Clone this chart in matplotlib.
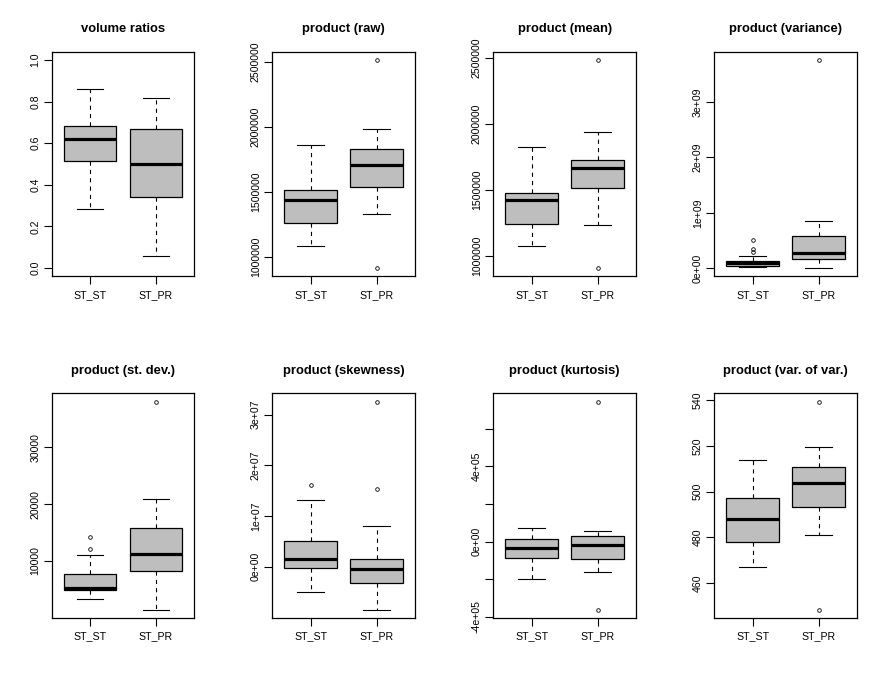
import matplotlib
matplotlib.use("Agg")
import matplotlib.pyplot as plt

plt.rcParams['font.family'] = ['Liberation Sans', 'DejaVu Sans']
plt.rcParams['lines.scale_dashes'] = False

# ================== DATA ==================
GROUPS = ["ST_ST", "ST_PR"]

TITLES = ["volume ratios", "product (raw)", "product (mean)", "product (variance)",
          "product (st. dev.)", "product (skewness)", "product (kurtosis)",
          "product (var. of var.)"]

# five numbers per group: whisker low, Q1, median, Q3, whisker high
ratio_st = [0.284, 0.515, 0.621, 0.682, 0.862]
ratio_pr = [0.058, 0.342, 0.501, 0.669, 0.817]
raw_st = [1.085e6, 1.264e6, 1.438e6, 1.512e6, 1.862e6]
raw_pr = [1.331e6, 1.538e6, 1.708e6, 1.828e6, 1.985e6]
mean_st = [1.076e6, 1.242e6, 1.424e6, 1.477e6, 1.826e6]
mean_pr = [1.235e6, 1.515e6, 1.667e6, 1.727e6, 1.939e6]
var_st = [0.023e9, 0.047e9, 0.090e9, 0.127e9, 0.217e9]
var_pr = [0.005e9, 0.163e9, 0.271e9, 0.578e9, 0.849e9]
sd_st = [3330, 4900, 5200, 7650, 10980]
sd_pr = [1400, 8120, 11280, 15720, 20980]
skew_st = [-0.49e7, -0.02e7, 0.163e7, 0.51e7, 1.314e7]
skew_pr = [-0.843e7, -0.314e7, -0.053e7, 0.157e7, 0.804e7]
kurt_st = [-1.97e5, -0.86e5, -0.33e5, 0.14e5, 0.725e5]
kurt_pr = [-1.60e5, -0.915e5, -0.16e5, 0.28e5, 0.566e5]
vov_st = [467.1, 478.1, 488.0, 497.0, 513.6]
vov_pr = [481.0, 493.2, 503.9, 510.9, 519.6]

# outliers
ratio_st_out, ratio_pr_out = [], []
raw_st_out, raw_pr_out = [], [2.512e6, 0.918e6]
mean_st_out, mean_pr_out = [], [2.482e6, 0.911e6]
var_st_out, var_pr_out = [0.511e9, 0.343e9, 0.300e9], [3.752e9]
sd_st_out, sd_pr_out = [14210, 12100], [38070]
skew_st_out, skew_pr_out = [1.608e7], [3.255e7, 1.529e7]
kurt_st_out, kurt_pr_out = [], [7.44e5, -3.61e5]
vov_st_out, vov_pr_out = [], [539.3, 448.4]

# y ticks and their labels ("" = tick without label)
TICKS = [
    ([0, 0.2, 0.4, 0.6, 0.8, 1.0], ["0.0", "0.2", "0.4", "0.6", "0.8", "1.0"]),
    ([1e6, 1.5e6, 2e6, 2.5e6], ["1000000", "1500000", "2000000", "2500000"]),
    ([1e6, 1.5e6, 2e6, 2.5e6], ["1000000", "1500000", "2000000", "2500000"]),
    ([0, 1e9, 2e9, 3e9], ["0e+00", "1e+09", "2e+09", "3e+09"]),
    ([10000, 20000, 30000], ["10000", "20000", "30000"]),
    ([0, 1e7, 2e7, 3e7], ["0e+00", "1e+07", "2e+07", "3e+07"]),
    ([-4e5, -2e5, 0, 2e5, 4e5, 6e5], ["-4e+05", "", "0e+00", "", "4e+05", ""]),
    ([460, 480, 500, 520, 540], ["460", "480", "500", "520", "540"]),
]
# =================================================================

PANELS = [
    (ratio_st, ratio_pr, ratio_st_out, ratio_pr_out),
    (raw_st, raw_pr, raw_st_out, raw_pr_out),
    (mean_st, mean_pr, mean_st_out, mean_pr_out),
    (var_st, var_pr, var_st_out, var_pr_out),
    (sd_st, sd_pr, sd_st_out, sd_pr_out),
    (skew_st, skew_pr, skew_st_out, skew_pr_out),
    (kurt_st, kurt_pr, kurt_st_out, kurt_pr_out),
    (vov_st, vov_pr, vov_st_out, vov_pr_out),
]


def make_stats(five, fliers, label):
    lo, q1, med, q3, hi = five
    return dict(whislo=lo, q1=q1, med=med, q3=q3, whishi=hi,
                fliers=fliers, label=label)


W, H = 883, 683
fig = plt.figure(figsize=(W / 100, H / 100), dpi=100)

LEFTS = [51.7, 272.3, 493.3, 714.3]
TOPS = [51.7, 393.3]
AX_W, AX_H = 142.6, 224.6

dash = (0, (3, 3))

for i, (title, (st, pr, st_out, pr_out)) in enumerate(zip(TITLES, PANELS)):
    row, col = divmod(i, 4)
    left = LEFTS[col] / W
    bottom = 1 - (TOPS[row] + AX_H) / H
    ax = fig.add_axes([left, bottom, AX_W / W, AX_H / H])

    stats = [make_stats(st, st_out, GROUPS[0]), make_stats(pr, pr_out, GROUPS[1])]
    ax.bxp(stats, positions=[1, 2], widths=0.8, capwidths=0.4, patch_artist=True,
           boxprops=dict(facecolor="#BEBEBE", edgecolor="black", linewidth=0.9),
           medianprops=dict(color="black", linewidth=2.3, solid_capstyle="butt"),
           whiskerprops=dict(color="black", linewidth=0.8, linestyle=dash),
           capprops=dict(color="black", linewidth=0.8),
           flierprops=dict(marker="o", markersize=2.6, markerfacecolor="none",
                           markeredgecolor="black", markeredgewidth=0.6))

    ax.margins(y=0.04)
    if i == 0:
        ax.set_ylim(-0.04, 1.04)
    ax.set_xlim(0.42, 2.58)

    ticks, labels = TICKS[i]
    ax.set_yticks(ticks, labels)
    ax.set_xticks([1, 2], GROUPS)
    ax.tick_params(axis="both", direction="out", length=5.8, width=0.8,
                   labelsize=7.6, color="black")
    ax.tick_params(axis="x", pad=4)
    ax.tick_params(axis="y", pad=2.5)
    for lab in ax.get_yticklabels():
        lab.set_rotation(90)
        lab.set_va("center")
    for sp in ax.spines.values():
        sp.set_linewidth(0.9)

    ax.set_title(title, fontsize=9.4, fontweight="bold", pad=14)

fig.savefig("out.png", dpi=100)
